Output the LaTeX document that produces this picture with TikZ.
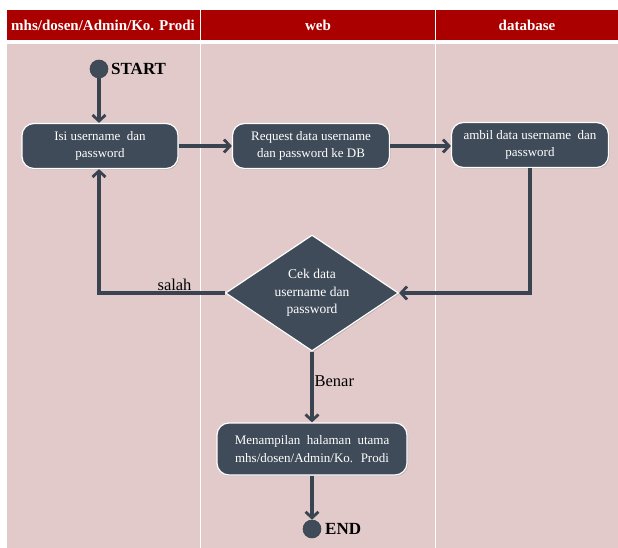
\documentclass[tikz,border=0pt]{standalone}
\usepackage{fontspec}
\setmainfont{Liberation Serif}
\usetikzlibrary{shapes.geometric,arrows.meta,shadows}
\definecolor{lanehead}{HTML}{AA0000}
\definecolor{laneback}{HTML}{E2CACA}
\definecolor{slate}{HTML}{404B59}
\definecolor{flowline}{HTML}{3A4450}
\begin{document}
\begin{tikzpicture}[x=1pt,y=-1pt,
  lanetitle/.style={text=white, font=\fontsize{15}{17}\selectfont\bfseries},
  action/.style={rectangle, rounded corners=12pt, fill=slate, draw=white,
    line width=1.2pt, text=white, align=center,
    font=\fontsize{13}{17.5}\selectfont, inner sep=1pt,
    drop shadow={opacity=0.35, shadow xshift=1pt, shadow yshift=-1.2pt}},
  decision/.style={diamond, aspect=1.49, fill=slate, draw=white, line width=1.2pt,
    text=white, align=center, font=\fontsize{13.5}{17.5}\selectfont,
    inner sep=0pt, minimum width=173pt, minimum height=116pt,
    drop shadow={opacity=0.35, shadow xshift=1pt, shadow yshift=-1.2pt}},
  terminal/.style={circle, fill=slate, draw=flowline, line width=0.6pt,
    minimum size=18pt, inner sep=0pt},
  termlabel/.style={font=\fontsize{17}{19}\selectfont\bfseries, anchor=west, inner sep=0pt},
  flow/.style={draw=flowline, line width=3.2pt,
    -{Straight Barb[length=6pt, width=13pt, line width=2.8pt]}},
  guard/.style={font=\fontsize{16.5}{18}\selectfont, text=black, inner sep=1pt}
]
\useasboundingbox (0,0) rectangle (618,548);
\fill[white] (0,0) rectangle (618,548);

% swimlane headers and lane bodies
\fill[lanehead] (7,10) rectangle (618,40);
\fill[laneback] (7,44) rectangle (618,548);
\draw[white, line width=1.6pt] (200.5,8) -- (200.5,548);
\draw[white, line width=1.6pt] (435.5,8) -- (435.5,548);
\node[lanetitle] (h1) at (103,25) {mhs/dosen/Admin/Ko. Prodi};
\node[lanetitle] (h2) at (318,25) {web};
\node[lanetitle] (h3) at (527,25) {database};

% activities
\node[terminal] (start) at (99,69) {};
\node[termlabel] (startlbl) at (111,69) {START};
\node[action, minimum width=156pt, minimum height=45pt] (isi) at (100,146)
  {Isi username \ dan\\password};
\node[action, minimum width=157pt, minimum height=45pt] (req) at (311,146)
  {Request data username\\dan password ke DB};
\node[action, minimum width=157pt, minimum height=45pt] (ambil) at (530,145)
  {ambil data username \ dan\\password};
\node[decision] (cek) at (312,293) {Cek data\\username dan\\password};
\node[action, minimum width=190pt, minimum height=52pt] (tampil) at (312,449)
  {Menampilan \ halaman \ utama\\mhs/dosen/Admin/Ko. \ Prodi};
\node[terminal] (end) at (312,529) {};
\node[termlabel] (endlbl) at (325,529) {END};

% control flow
\draw[flow] (start) -- (start |- isi.north);
\draw[flow] (isi) -- (req);
\draw[flow] (req.east) -- (req.east -| ambil.west);
\draw[flow] (ambil.south) |- (cek.east);
\draw[flow] (cek.west) -| node[guard, pos=0.2, above] {salah} (start |- isi.south);
\draw[flow] (cek.south) -- node[guard, pos=0.42, right] {Benar} (tampil.north);
\draw[flow] (tampil) -- (end);
\end{tikzpicture}
\end{document}
